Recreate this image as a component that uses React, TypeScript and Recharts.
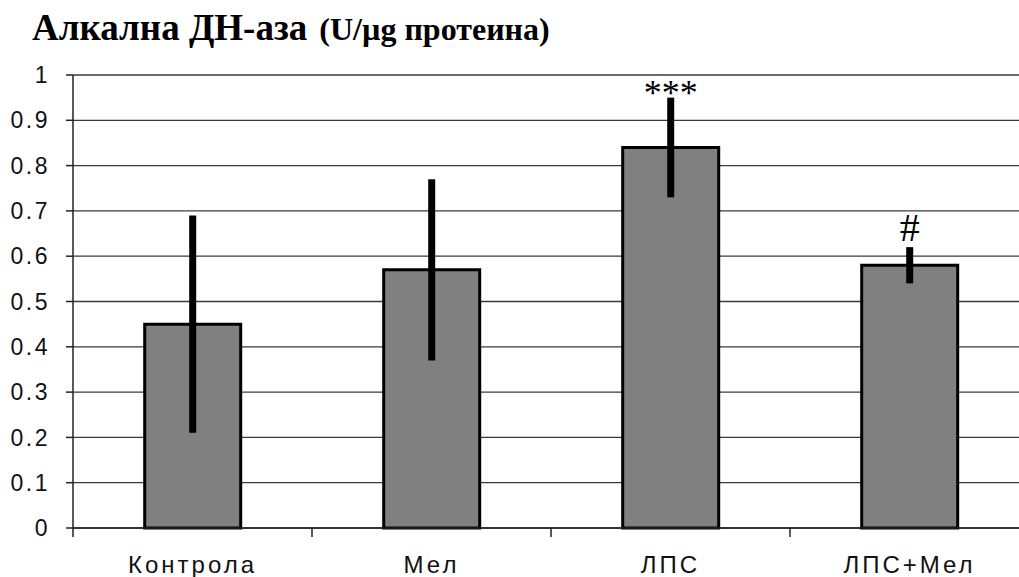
import { BarChart, Bar, XAxis, YAxis, CartesianGrid, ErrorBar, LabelList } from 'recharts'

// values
const GROUPS = ['Контрола', 'Мел', 'ЛПС', 'ЛПС+Мел']
const MEANS = [0.45, 0.57, 0.84, 0.58]
const ERRORS = [0.24, 0.2, 0.11, 0.04]
const MARKS = ['', '', '***', '#']
const Y_TICKS = [0, 0.1, 0.2, 0.3, 0.4, 0.5, 0.6, 0.7, 0.8, 0.9, 1]

const data = GROUPS.map((name, i) => ({
    name,
    value: MEANS[i],
    err: ERRORS[i],
    mark: MARKS[i]
}))

const SANS = '"Liberation Sans", Arial, sans-serif'
const SERIF = '"Liberation Serif", "Times New Roman", serif'

// no scrollbars: the plot runs past the right edge like in the cropped original
if (typeof document !== 'undefined') {
    document.documentElement.style.overflow = 'hidden'
    document.body.style.overflow = 'hidden'
    document.body.style.margin = '0'
}

// category ticks sit on the band edges, labels in the middle
function CategoryTick(props: any) {
    const { x, y, payload } = props
    const half = payload?.offset ?? 119.5
    return (
        <g>
            <line x1={x - half} x2={x - half} y1={y} y2={y + 9} stroke="#222" strokeWidth={1.5} />
            <text
                x={x}
                y={y + 45}
                textAnchor="middle"
                fontFamily={SANS}
                fontSize={24}
                letterSpacing={3}
                fill="#111"
            >
                {payload.value}
            </text>
        </g>
    )
}

// significance marks above the error bar
function renderMark(props: any) {
    const { x, y, width, height, value, index } = props
    if (!value) return null
    const pxPerUnit = height / MEANS[index]
    const errTop = y - ERRORS[index] * pxPerUnit
    const isStar = String(value).startsWith('*')
    return (
        <text
            x={x + width / 2}
            y={isStar ? errTop + 7 : errTop - 6}
            textAnchor="middle"
            fontFamily={SERIF}
            fontSize={isStar ? 36 : 40}
            fill="#000"
        >
            {value}
        </text>
    )
}

export default function App() {
    return (
        <div style={{ position: 'fixed', left: 0, top: 0, width: 1019, height: 577, overflow: 'hidden', background: '#fff' }}>
            <BarChart
                width={1100}
                height={577}
                data={data}
                margin={{ top: 75, right: 71, bottom: 0, left: 0 }}
                barCategoryGap="30%"
            >
                <CartesianGrid vertical={false} stroke="#3a3a3a" strokeWidth={1.3} />
                <XAxis
                    dataKey="name"
                    height={49}
                    interval={0}
                    tickLine={false}
                    tickSize={0}
                    tickMargin={0}
                    axisLine={{ stroke: '#222', strokeWidth: 1.5 }}
                    tick={<CategoryTick />}
                />
                <YAxis
                    width={73}
                    domain={[0, 1]}
                    ticks={Y_TICKS}
                    interval={0}
                    tickSize={7}
                    tickMargin={16}
                    axisLine={{ stroke: '#222', strokeWidth: 1.5 }}
                    tickLine={{ stroke: '#222', strokeWidth: 1.5 }}
                    tick={{ fontFamily: SANS, fontSize: 23, fill: '#111', letterSpacing: 2.5 }}
                />
                <Bar dataKey="value" fill="#808080" stroke="#000" strokeWidth={3} isAnimationActive={false}>
                    <ErrorBar dataKey="err" width={0} strokeWidth={7} stroke="#000" isAnimationActive={false} />
                    <LabelList dataKey="mark" content={renderMark} />
                </Bar>
            </BarChart>
            <svg width={1019} height={60} style={{ position: 'absolute', left: 0, top: 0, pointerEvents: 'none' }}>
                <text x={32} y={40} fontFamily={SERIF} fontWeight="bold" fill="#000">
                    <tspan fontSize={37}>Алкална ДН-аза</tspan>
                    <tspan fontSize={32} dx={12}>(U/µg протеина)</tspan>
                </text>
            </svg>
        </div>
    )
}
